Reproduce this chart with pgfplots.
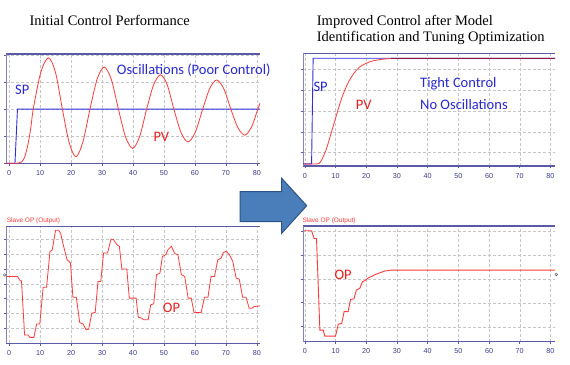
\documentclass[border=0pt]{standalone}
\usepackage{pgfplots}
\pgfplotsset{compat=1.18}
\usepackage{fontspec}
\setmainfont{Liberation Serif}
\newfontfamily\calibri{Carlito}
\newfontfamily\arial{Liberation Sans}

\definecolor{frame}{HTML}{5A5AA5}
\definecolor{ticklbl}{HTML}{3C3C8C}
\definecolor{pvred}{HTML}{FF3B3B}
\definecolor{spblue}{HTML}{2E2EE0}
\definecolor{txtblue}{HTML}{2828D0}
\definecolor{txtred}{HTML}{E81E1E}
\definecolor{maroon}{HTML}{8E1B4C}
\definecolor{arrowfill}{HTML}{4A7EBB}
\definecolor{arrowdraw}{HTML}{2E5485}

\pgfplotsset{panel/.style={
  scale only axis, anchor=south west, clip=false,
  axis line style={draw=none},
  grid=major, grid style={densely dashed, color=gray!45, line width=0.4pt},
  tick style={color=frame, line width=0.5pt},
  tick align=outside, major tick length=2.5pt,
  xtick pos=left, ytick pos=left,
  xtick={0,10,...,80}, yticklabels={},
  /pgf/number format/assume math mode=true,
  xticklabel style={font=\arial\fontsize{7.2}{8}\selectfont, text=ticklbl, yshift=-1pt},
}}
\newcommand{\frameit}{%
  \draw[frame, line width=1.2pt] (rel axis cs:0,1) -- (rel axis cs:1,1);
  \draw[frame, line width=1.2pt] (rel axis cs:0,0) -- (rel axis cs:1,0);
  \draw[frame!75, line width=0.6pt] (rel axis cs:0,0) -- (rel axis cs:0,1);
}

\begin{document}
\begin{tikzpicture}
\useasboundingbox[fill=white] (0pt,0pt) rectangle (570pt,364pt);

% top-left
\begin{axis}[panel, at={(6pt,200.7pt)}, width=254pt, height=109.3pt,
  xmin=-1, xmax=81, ymin=0, ymax=4.04, ytick={0,...,4}]
\frameit
\addplot[spblue, line width=0.9pt] coordinates {(-1,0) (1.9,0) (2.7,2) (81,2)};
\addplot[pvred, line width=0.8pt, smooth] coordinates {
(-1,0) (2,0) (3,0.01) (4,0.05) (5,0.22) (6,0.65) (7,1.3) (7.8,2.0) (10.2,3.35) (12.7,3.9)
(15,3.35) (17.2,2.0) (19.4,0.76) (21.6,0.24) (23.85,0.8) (26.1,2.0) (28.4,3.1) (30.7,3.56)
(33,3.1) (35.3,2.0) (37.6,0.97) (39.9,0.55) (42.15,0.99) (44.4,2.0) (46.65,2.9) (48.9,3.27)
(51.05,2.9) (53.2,2.0) (55.5,1.14) (57.8,0.79) (60.15,1.16) (62.5,2.0) (64.75,2.76) (67,3.08)
(69.3,2.76) (71.6,2.0) (73.85,1.32) (76.1,1.04) (78.3,1.35) (80.3,2.0) (81,2.22)};
\end{axis}

% top-right
\begin{axis}[panel, at={(303.3pt,198pt)}, width=251.7pt, height=112.7pt,
  xmin=-0.5, xmax=81.5, ymin=0.36, ymax=5.77, ytick={1,...,5}]
\frameit
\addplot[spblue, line width=0.9pt] coordinates {(-0.5,0.46) (2.2,0.46) (2.7,5.53) (81.5,5.53)};
\addplot[pvred, line width=0.8pt, smooth] coordinates {
(-0.5,0.46) (4,0.46) (5,0.54) (6,0.81) (7,1.17) (8,1.65) (10,2.65) (12,3.61) (14,4.33)
(16,4.81) (17.9,5.12) (20,5.29) (22,5.4) (25,5.48) (28,5.52)};
\addplot[maroon, line width=1pt] coordinates {(28,5.52) (29,5.53) (81.5,5.53)};
\end{axis}

% bottom-left
\begin{axis}[panel, at={(6pt,20.7pt)}, width=254pt, height=116.6pt,
  xmin=-1, xmax=81, ymin=0, ymax=7.85, ytick={1,...,7}]
\frameit
\addplot[pvred, line width=0.8pt] coordinates {
(-0.8,4.5) (2.7,4.5) (3.6,4.21) (4.0,4.21) (5.0,0.56) (6.1,0.56) (6.7,0.4) (8.0,0.4)
(8.9,1.3) (9.9,1.3) (11.0,3.78) (12.1,3.78) (13.2,6.19) (13.9,6.26) (15.0,7.61) (16.0,7.61)
(16.6,7.43) (17.6,6.53) (18.7,5.63) (19.3,5.52) (19.8,5.41) (20.6,3.1) (21.7,3.1)
(22.8,1.39) (23.9,1.3) (24.9,0.9) (25.7,0.95) (26.7,2.03) (27.8,2.08) (28.7,4.16) (29.6,4.16)
(30.5,6.08) (31.8,6.08) (32.9,7.02) (33.7,6.98) (34.8,6.64) (35.6,6.53) (36.4,5.0) (38.0,5.0)
(38.8,3.04) (41.0,3.04) (41.7,1.76) (42.8,1.69) (43.5,1.58) (44.9,1.58) (45.7,2.59) (46.7,2.66)
(47.6,4.62) (48.7,4.73) (49.5,5.85) (50.6,5.97) (51.3,6.31) (52.4,6.53) (53.5,6.03) (54.5,5.97)
(55.6,4.62) (56.7,4.5) (57.8,3.04) (58.8,3.04) (59.7,2.08) (62.0,2.08) (63.1,3.1) (64.2,3.1)
(65.2,4.5) (66.3,4.5) (67.4,5.63) (68.4,5.72) (69.2,6.12) (70.1,6.19) (71.1,5.97) (72.2,5.52)
(73.3,4.39) (74.3,4.32) (75.4,3.1) (76.5,3.1) (77.5,2.36) (78.4,2.36) (79.1,2.47) (81.0,2.52)};
\addplot[only marks, mark=o, mark size=1.3pt, black!70] coordinates {(-1.4,4.6)};
\end{axis}

% bottom-right
\begin{axis}[panel, at={(303.3pt,22.3pt)}, width=251.7pt, height=115.7pt,
  xmin=-0.5, xmax=81.5, ymin=0.375, ymax=5.2, ytick={1,...,5}]
\frameit
\addplot[pvred, line width=0.9pt] coordinates {
(-0.4,5.0) (2.2,5.0) (3.0,4.68) (3.8,4.68) (4.9,0.86) (6.0,0.86) (6.5,0.61) (10.0,0.61)
(10.9,1.11) (12.0,1.13) (12.8,1.63) (14.1,1.63) (14.9,2.14) (16.0,2.16) (16.8,2.53) (17.9,2.6)
(18.8,2.88) (19.9,2.95) (20.7,3.04) (22.0,3.11) (23.0,3.18) (24.5,3.25) (26.0,3.32) (28.3,3.36)
(81.5,3.36)};
\addplot[only marks, mark=o, mark size=1.3pt, black!70] coordinates {(81.9,3.18)};
\end{axis}

\begin{scope}[x=1pt,y=1pt]
% arrow
\draw[arrowdraw, line width=1pt, fill=arrowfill]
  (240,172.3) -- (281.7,172.3) -- (281.7,185.7) -- (306.7,158.3) -- (281.7,130.7)
  -- (281.7,142.3) -- (240,142.3) -- cycle;
% titles
\node[anchor=base west, inner sep=0, font=\fontsize{14.5}{15.5}\selectfont] at (29.3,338) {Initial Control Performance};
\node[anchor=base west, inner sep=0, font=\fontsize{14.5}{15.5}\selectfont] at (316.7,338) {Improved Control after Model};
\node[anchor=base west, inner sep=0, font=\fontsize{14.5}{15.5}\selectfont] at (316.7,322.7) {Identification and Tuning Optimization};
% annotations
\node[anchor=base west, inner sep=0, text=txtblue, font=\calibri\fontsize{14.5}{16}\selectfont] at (116.7,289) {Oscillations (Poor Control)};
\node[anchor=base west, inner sep=0, text=txtblue, font=\calibri\fontsize{14.5}{16}\selectfont] at (15,269) {SP};
\node[anchor=base west, inner sep=0, text=txtred, font=\calibri\fontsize{14.5}{16}\selectfont] at (153.3,222.3) {PV};
\node[anchor=base west, inner sep=0, text=txtblue, font=\calibri\fontsize{14.5}{16}\selectfont] at (313.3,272.3) {SP};
\node[anchor=base west, inner sep=0, text=txtred, font=\calibri\fontsize{14.5}{16}\selectfont] at (355.7,254.7) {PV};
\node[anchor=base west, inner sep=0, text=txtblue, font=\calibri\fontsize{14.5}{16}\selectfont] at (420,276.7) {Tight Control};
\node[anchor=base west, inner sep=0, text=txtblue, font=\calibri\fontsize{14.5}{16}\selectfont] at (420,254.7) {No Oscillations};
\node[anchor=base west, inner sep=0, text=txtred, font=\calibri\fontsize{14.5}{16}\selectfont] at (162.7,51.7) {OP};
\node[anchor=base west, inner sep=0, text=txtred, font=\calibri\fontsize{14.5}{16}\selectfont] at (334.3,84.7) {OP};
\node[anchor=base west, inner sep=0, text=pvred, font=\arial\fontsize{6.5}{7}\selectfont] at (6.7,141) {Slave OP (Output)};
\node[anchor=base west, inner sep=0, text=pvred, font=\arial\fontsize{6.5}{7}\selectfont] at (302.3,141) {Slave OP (Output)};
\end{scope}
\end{tikzpicture}
\end{document}
